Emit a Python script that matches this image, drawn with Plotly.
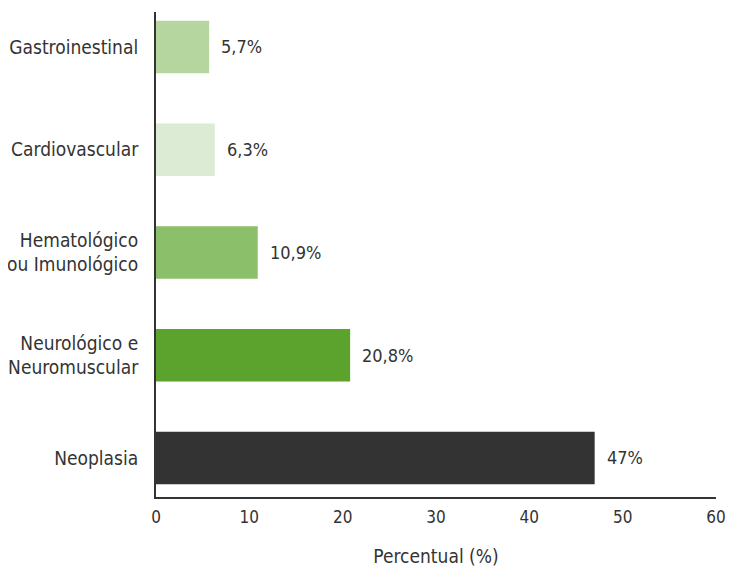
import plotly.graph_objects as go

categories = ["Neoplasia", "Neurológico e<br>Neuromuscular", "Hematológico<br>ou Imunológico", "Cardiovascular", "Gastroinestinal"]
values = [47, 20.8, 10.9, 6.3, 5.7]
labels = ["47%", "20,8%", "10,9%", "6,3%", "5,7%"]
colors = ["#333333", "#5ba32d", "#8bbf6a", "#dcebd4", "#b5d69e"]
x_ticks = [0, 10, 20, 30, 40, 50, 60]

FONT = "DejaVu Sans Condensed, Liberation Sans Narrow, Roboto, sans-serif"

fig = go.Figure()
fig.add_trace(go.Bar(
    y=categories, x=values, orientation="h",
    marker=dict(color=colors, line=dict(width=0)),
    width=0.51, hoverinfo="skip",
))
for c, v, t in zip(categories, values, labels):
    fig.add_annotation(x=v, y=c, text=t, showarrow=False, xanchor="left",
                       xshift=10, font=dict(family=FONT, size=18, color="#333333"))

fig.update_layout(
    width=727, height=559,
    margin=dict(l=148, r=19, t=4, b=70),
    paper_bgcolor="white", plot_bgcolor="white",
    showlegend=False,
    font=dict(family=FONT, size=18, color="#333333"),
    xaxis=dict(range=[0, 60], tickvals=x_ticks, showgrid=False, zeroline=False,
               showline=True, linecolor="#333333", linewidth=2, automargin=False,
               ticks="outside", ticklen=4, tickcolor="rgba(0,0,0,0)",
               tickfont=dict(size=17), ticklabeloverflow="allow",
               title=dict(text="Percentual (%)", standoff=28, font=dict(size=19))),
    yaxis=dict(range=[-0.38, 4.34], showgrid=False, zeroline=False,
               showline=True, linecolor="#333333", linewidth=2, automargin=False,
               ticks="outside", ticklen=12, tickcolor="rgba(0,0,0,0)",
               tickfont=dict(size=19)),
)
fig.write_html("out.html")
